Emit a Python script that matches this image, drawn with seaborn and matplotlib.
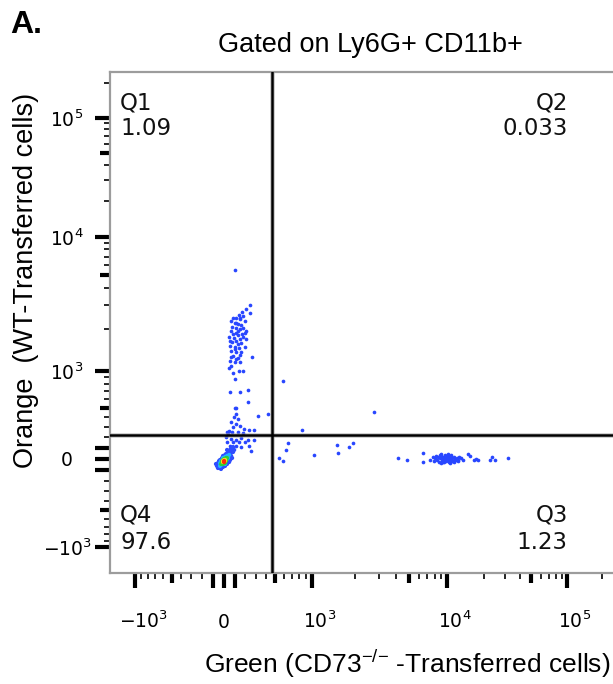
import numpy as np
import pandas as pd
import matplotlib
matplotlib.use("Agg")
import matplotlib.pyplot as plt
import seaborn as sns
from matplotlib.ticker import FixedLocator, NullFormatter
from matplotlib.transforms import ScaledTranslation

# ---------------- data (fluorescence intensities) ----------------
# Q1 column: WT-transferred neutrophils (Orange+)
wt_x = [101, 247, 209, 172, 247, 141, 178, 86, 117, 153, 70, 194, 101, 132, 163, 79, 117, 209, 147, 70,
        110, 172, 132, 49, 92, 147, 209, 117, 79, 163, 55, 101, 141, 194, 70, 117, 163, 86, 265, 132,
        55, 101, 147, 70, 49, 141, 178, 86, 147, 117, 178, 86, 178, 132, 101, 147, 117, 70, 194, 132, 55]
wt_y = [5500, 2960, 2770, 2645, 2585, 2500, 2470, 2400, 2380, 2340, 2280, 2265, 2190, 2155, 2120, 2075, 2040, 1930, 1985, 1930,
        1880, 1830, 1800, 1760, 1730, 1685, 1685, 1640, 1600, 1580, 1510, 1495, 1470, 1485, 1395, 1360, 1360, 1285, 1270, 1250,
        1185, 1155, 1165, 1090, 1050, 1005, 1005, 975, 2400, 2210, 2040, 1830, 1760, 1553, 1433, 1300, 1218, 1270, 1880, 1930, 1640]

# lower part of the column, near the gate
low_x = [101, 61, 153, 228, 228, 101, 117, 320, 423, 110, 92, 132, 70, 117, 147, 86, 184, 49, 27, 79,
         132, 178, 234, 280, 39, 24, 70, 117, 163, 225, 280, 30, 86, 141, 194, 55, 117, 163, 234, 257]
low_y = [880, 685, 685, 712, 562, 494, 494, 415, 436, 432, 398, 380, 346, 329, 313, 296, 280, 264, 255, 247,
         255, 241, 274, 274, 228, 200, 184, 178, 190, 178, 178, 160, 153, 153, 160, 122, 122, 107, 122, 76]

# scattered events right of the vertical gate
misc_x = [590, 840, 648, 630, 545, 590, 2760, 1030, 1500, 1540, 1840, 1960, 4180, 4900, 6450, 6450]
misc_y = [846, 274, 147, 86, 6, -16, 453, 37, 129, 55, 110, 147, 9, -9, 55, -28]

# Q3 cluster: CD73-/- transferred cells (Green+)
ko_x = [7400, 7700, 7900, 8100, 8200, 8400, 8500, 8600, 8800, 8900, 9000, 9100, 9200, 9300, 9400, 9500, 9600, 9700, 9800, 9900,
        10000, 10100, 10200, 10300, 10400, 10500, 10600, 10800, 10900, 11000, 11200, 11400, 11600, 11800, 12000, 12300, 12600,
        13000, 13500, 9000, 10500, 11500, 8800, 9600, 10200, 14900, 15500, 16500, 17300, 18000, 22400, 23300, 25000, 32000,
        9300, 10800, 12400]
ko_y = [-9, 20, -20, 5, 28, -9, 15, -28, 9, 30, 46, -15, 0, 20, -30, 10, -5, 25, -20, 5,
        15, -10, 30, 0, -25, 12, -5, 20, -15, 5, -20, 18, 0, -10, 12, -5, 20,
        5, -9, -37, -37, -28, 37, 40, 46, 46, 28, -9, 0, -9, -9, 18, -9, 9,
        -28, 35, -20]

# double-negative population near the origin, with pseudocolor density level (0 low .. 4 high)
blob_x = [-51, -41, -60, -32, -23, -69, -51, -41, -32, -14, -5, 14, 23, 41, 51, 60, 69, 78, 87, 60, 69, 78, 60, 51, 32, 14,
          -5, -23, 41, 32, 87, 97, 23, -41, -14, 5, 41, 51, 69, 5, -23,
          -32, -23, -14, 23, 32, 41, 32, 41, 23, -32, -23, -5, 14, 51, 14, 5,
          -23, -14, -5, -14, -5, 14, 23, 32, 23, 5, -5, 14,
          -5, 5, 14, 14, -5,
          5, 5]
blob_y = [-83, -74, -64, -83, -74, -46, -37, -18, -9, 9, 28, 37, 46, 64, 74, 83, 92, 101, 110, 46, 28, 9, -9, -28, -46, -64,
          -74, -92, 37, 83, 64, 83, 18, -46, -64, -55, -9, 18, 64, 18, -28,
          -64, -55, -46, 18, 28, 18, 0, 9, -9, -37, -18, 9, 18, 37, -46, -37,
          -46, -37, -46, -18, -9, 0, 9, 9, -18, 0, -28, -37,
          -28, -9, -18, -9, -18,
          -28, -18]
blob_level = [0] * 41 + [1] * 16 + [2] * 12 + [3] * 5 + [4] * 2

gate_x = 470
gate_y = 225

quad_names = ["Q1", "Q2", "Q3", "Q4"]
quad_pcts = ["1.09", "0.033", "1.23", "97.6"]

major_vals = [-1000, -500, -100, 0, 100, 500, 1000, 5000, 10000, 50000, 100000]
major_labels = [r"$\mathregular{-10^3}$", "", "", "0", "", "", r"$\mathregular{10^3}$", "",
                r"$\mathregular{10^4}$", "", r"$\mathregular{10^5}$"]
medium_vals = [-500, 500, 5000, 50000]
minor_vals = ([-900, -800, -700, -600, -400, -300, -200, 200, 300, 400, 600, 700, 800, 900]
              + [2000, 3000, 4000, 6000, 7000, 8000, 9000]
              + [20000, 30000, 40000, 60000, 70000, 80000, 90000, 200000])

# ---------------- biexponential (logicle-like) display transform ----------------
A_, P_ = 113.9, 3.05
_d = np.linspace(0, 4.5, 6001)
_v = A_ * (10 ** _d - P_ ** 2 * 10 ** (-_d / P_) + P_ ** 2 - 1)
D_ = np.concatenate([-_d[::-1], _d[1:]])
V_ = np.concatenate([-_v[::-1], _v[1:]])


def fwd(x):
    return np.interp(np.asarray(x, dtype=float), V_, D_)


def inv(d):
    return np.interp(np.asarray(d, dtype=float), D_, V_)


# ---------------- figure ----------------
sns.set_theme(style="ticks")
plt.rcParams["font.family"] = ["DejaVu Sans"]
plt.rcParams["text.color"] = "black"

fig = plt.figure(figsize=(6.13, 6.84), dpi=100)
ax = fig.add_axes([110 / 613, (684 - 573) / 684, 506 / 613, 501 / 684])

BLUE = "#2846ff"
df_main = pd.DataFrame({"x": wt_x + low_x + misc_x + ko_x,
                        "y": wt_y + low_y + misc_y + ko_y})
sns.scatterplot(data=df_main, x="x", y="y", ax=ax, color=BLUE, s=7, linewidth=0,
                legend=False, zorder=2)

df_blob = pd.DataFrame({"x": blob_x, "y": blob_y, "level": blob_level})
pal = {0: "#2f4dff", 1: "#22b4ff", 2: "#2fcf3a", 3: "#f2e21e", 4: "#ff2a0a"}
sns.scatterplot(data=df_blob, x="x", y="y", hue="level", palette=pal, ax=ax, s=9,
                linewidth=0, legend=False, zorder=3)

ax.set_xscale("function", functions=(fwd, inv))
ax.set_yscale("function", functions=(fwd, inv))
ax.set_xlim(float(inv(-0.972)), float(inv(3.36)))
ax.set_ylim(float(inv(-0.983)), float(inv(3.336)))

# quadrant gate
for fn, v in ((ax.axvline, gate_x), (ax.axhline, gate_y)):
    fn(v, color="#9a9a9a", lw=3.6, alpha=0.45, zorder=4)
    fn(v, color="black", lw=1.8, zorder=5)

ax.set_xlabel("")
ax.set_ylabel("")

# frame
for side in ("top", "left", "bottom", "right"):
    ax.spines[side].set_color("#9c9c9c")
    ax.spines[side].set_linewidth(1.6)

# ticks
ax.set_xticks(major_vals, labels=major_labels, va="baseline", ha="center")
ax.set_yticks(major_vals, labels=major_labels, va="center_baseline", ha="center")
for axis in (ax.xaxis, ax.yaxis):
    axis.set_minor_locator(FixedLocator(minor_vals))
    axis.set_minor_formatter(NullFormatter())

ax.tick_params(which="major", direction="out", length=10.5, width=3.0, color="black",
               labelsize=13.5, labelcolor="black", bottom=True, left=True, top=False, right=False)
ax.tick_params(which="minor", direction="out", length=4.3, width=1.2, color="black",
               bottom=True, left=True, top=False, right=False)
ax.xaxis.set_tick_params(which="major", pad=29)
ax.yaxis.set_tick_params(which="major", pad=20.4)

for axis in (ax.xaxis, ax.yaxis):
    for tick, val in zip(axis.get_major_ticks(), major_vals):
        if val in medium_vals:
            tick.tick1line.set_markersize(7.0)

shift = ScaledTranslation(8 / 100, 0, fig.dpi_scale_trans)
for tick, lab in zip(ax.xaxis.get_major_ticks(), major_labels):
    if "10" in lab:
        tick.label1.set_transform(tick.label1.get_transform() + shift)

# quadrant labels
qkw = dict(transform=ax.transAxes, fontsize=16.5, color="#111111", family="DejaVu Sans",
           va="baseline", zorder=6)
xl, xr = 0.0198, 0.905
ax.text(xl, 0.926, quad_names[0], ha="left", **qkw)
ax.text(xl, 0.874, quad_pcts[0], ha="left", **qkw)
ax.text(xr, 0.926, quad_names[1], ha="right", **qkw)
ax.text(xr, 0.874, quad_pcts[1], ha="right", **qkw)
ax.text(xr, 0.102, quad_names[2], ha="right", **qkw)
ax.text(xr, 0.048, quad_pcts[2], ha="right", **qkw)
ax.text(xl, 0.102, quad_names[3], ha="left", **qkw)
ax.text(xl, 0.048, quad_pcts[3], ha="left", **qkw)

# titles and axis labels
fig.text(10 / 613, 1 - 33 / 684, "A.", fontsize=23, fontweight="bold", color="black",
         family=["Liberation Sans Narrow", "Liberation Sans"], va="baseline", ha="left")
fig.text(370.5 / 613, 1 - 52 / 684, "Gated on Ly6G+ CD11b+", fontsize=19.5, color="black",
         family="Liberation Sans", va="baseline", ha="center")
fig.text(407 / 613, 11 / 684, r"Green (CD73$^{\mathregular{{-}/{-}}}$ -Transferred cells)",
         fontsize=19, family="Liberation Sans", va="baseline", ha="center", color="black")
fig.text(33 / 613, 1 - 280 / 684, "Orange  (WT-Transferred cells)", fontsize=19.5,
         family="Liberation Sans", rotation=90, rotation_mode="anchor", color="black",
         va="baseline", ha="center")

fig.savefig("out.png", dpi=100, facecolor="white")
